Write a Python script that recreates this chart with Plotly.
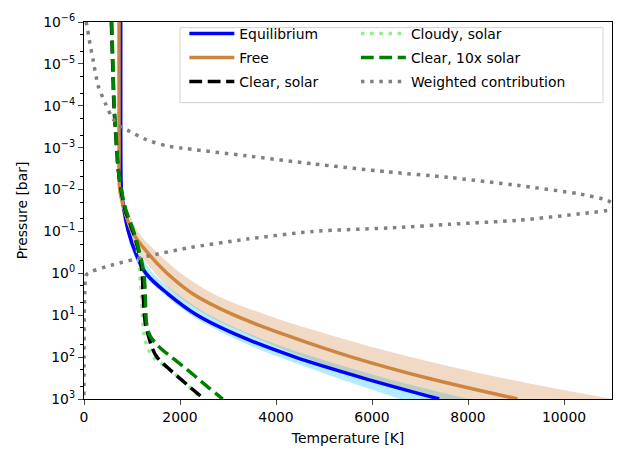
import plotly.graph_objects as go

# ---- pressure grids (log10 of pressure in bar) ----
grid_logp = [-6, -5, -4, -3, -2, -1.5, -1, -0.5, 0, 0.5, 1, 1.5, 2, 2.5, 3]

# Retrieved temperature profiles [K] and their 1-sigma envelopes
equilibrium_T = [765, 765, 765, 766, 780, 835, 925, 1070, 1290, 1760, 2360, 3250, 4400, 5820, 7400]
equilibrium_lo = [760, 760, 760, 760, 770, 815, 890, 1020, 1220, 1670, 2230, 3030, 4060, 5280, 6580]
equilibrium_hi = [770, 770, 770, 772, 795, 870, 985, 1160, 1440, 1960, 2620, 3570, 4800, 6270, 8000]
free_T = [730, 730, 730, 731, 745, 850, 1000, 1320, 1730, 2280, 3130, 4270, 5580, 7150, 9030]
free_lo = [725, 725, 725, 724, 722, 787, 893, 1148, 1479, 1916, 2566, 3500, 4574, 5861, 7400]
free_hi = [735, 735, 735, 738, 770, 920, 1120, 1520, 2020, 2710, 3820, 5210, 6810, 8720, 11020]

# Forward-model profiles [K]
model_logp = [-6, -5, -4, -3, -2.5, -2, -1.5, -1, -0.5, 0, 0.5, 1, 1.25, 1.5, 1.75, 2, 2.25, 2.5, 2.75, 3]
clear_solar_T = [570, 598, 625, 680, 712, 770, 862, 1019, 1144, 1211, 1232, 1260, 1285, 1345, 1410, 1520, 1740, 1990, 2240, 2510]
cloudy_solar_T = [565, 594, 620, 676, 708, 765, 850, 1000, 1120, 1160, 1195, 1215, 1235, 1255, 1320, 1440, 1730, 1990, 2230, 2440]
clear_10x_T = [577, 603, 630, 683, 712, 779, 875, 1036, 1158, 1247, 1275, 1290, 1310, 1380, 1560, 1820, 2100, 2360, 2620, 2890]

# Weighted contribution function, scaled onto the temperature axis
contrib_logp = [-6.0, -5.938, -5.479, -5.106, -4.486, -4.073, -3.683, -3.5, -3.385, -3.186,
                -3.041, -2.995, -2.805, -2.612, -2.424, -2.291, -2.101, -1.899, -1.741, -1.6,
                -1.527, -1.436, -1.264, -1.17, -1.092, -1.0, -0.817, -0.603, -0.404, -0.204,
                0.025, 0.5, 1.0, 2.0, 3.0]
contrib_T = [42, 56, 125, 188, 292, 438, 604, 765, 958, 1306,
             1723, 2000, 3390, 4777, 6308, 7594, 9021, 10304, 10910, 11060,
             11000, 10448, 9021, 7594, 6521, 4771, 3396, 2146, 1306, 604,
             56, 15, 5, 1, 0]

# Axis ticks
x_ticks = [0, 2000, 4000, 6000, 8000, 10000]
y_exponents = [-6, -5, -4, -3, -2, -1, 0, 1, 2, 3]


def to_p(logs):
    return [10 ** v for v in logs]


FONT = "DejaVu Sans"
FS = 13.9
grid_p = to_p(grid_logp)
model_p = to_p(model_logp)

fig = go.Figure()


def band(lo, hi, color):
    fig.add_trace(go.Scatter(x=lo, y=grid_p, mode="lines", line=dict(width=0, shape="spline"),
                             showlegend=False, hoverinfo="skip"))
    fig.add_trace(go.Scatter(x=hi, y=grid_p, mode="lines", line=dict(width=0, shape="spline"),
                             fill="tonextx", fillcolor=color, showlegend=False, hoverinfo="skip"))


band(equilibrium_lo, equilibrium_hi, "rgba(0,191,255,0.3)")
band(free_lo, free_hi, "rgba(205,133,63,0.3)")

LW = 3.5
fig.add_trace(go.Scatter(x=equilibrium_T, y=grid_p, mode="lines", name="Equilibrium",
                         line=dict(color="#0000ff", width=LW, shape="spline"), legend="legend"))
fig.add_trace(go.Scatter(x=free_T, y=grid_p, mode="lines", name="Free",
                         line=dict(color="#cd853f", width=LW, shape="spline"), legend="legend"))
fig.add_trace(go.Scatter(x=cloudy_solar_T, y=model_p, mode="lines", name="Cloudy, solar",
                         line=dict(color="#90ee90", width=LW, dash="3.5px,5.7px", shape="spline"),
                         legend="legend2"))
fig.add_trace(go.Scatter(x=clear_solar_T, y=model_p, mode="lines", name="Clear, solar",
                         line=dict(color="black", width=LW, dash="12.8px,5.6px", shape="spline"),
                         legend="legend"))
fig.add_trace(go.Scatter(x=clear_10x_T, y=model_p, mode="lines", name="Clear, 10x solar",
                         line=dict(color="#008000", width=LW, dash="12.8px,5.6px", shape="spline"),
                         legend="legend2"))
fig.add_trace(go.Scatter(x=contrib_T, y=to_p(contrib_logp), mode="lines", name="Weighted contribution",
                         line=dict(color="#808080", width=LW, dash="3.5px,5.7px", shape="spline", smoothing=0.6),
                         legend="legend2"))

# ordering within each legend column
order = {"Equilibrium": 1, "Free": 2, "Clear, solar": 3,
         "Cloudy, solar": 1, "Clear, 10x solar": 2, "Weighted contribution": 3}
for tr in fig.data:
    if tr.name in order:
        tr.legendrank = order[tr.name]
        tr.legendgroup = tr.name

legend_common = dict(bgcolor="rgba(0,0,0,0)", borderwidth=0, font=dict(family=FONT, size=FS, color="black"),
                     traceorder="grouped", tracegroupgap=3, yanchor="top", xanchor="left", itemwidth=45)

fig.update_layout(
    width=627, height=455,
    margin=dict(l=84, r=15, t=14, b=49),
    paper_bgcolor="white", plot_bgcolor="white",
    font=dict(family=FONT, size=FS, color="black"),
    legend=dict(x=0.19, y=1.011, **legend_common),
    legend2=dict(x=0.515, y=1.011, **legend_common),
    shapes=[dict(type="rect", xref="paper", yref="paper", x0=0.182, x1=0.983, y0=0.786, y1=0.985,
                 line=dict(color="#d3d3d3", width=1), fillcolor="rgba(255,255,255,0.8)", layer="above")],
    xaxis=dict(range=[0, 11000], tickvals=x_ticks, ticktext=[str(v) for v in x_ticks],
               ticks="outside", ticklen=5, tickwidth=1.1,
               showline=True, linecolor="black", linewidth=1.1, mirror=True, showgrid=False, zeroline=False,
               title=dict(text="Temperature [K]", standoff=9, font=dict(size=FS)),
               tickfont=dict(size=FS)),
    yaxis=dict(type="log", range=[3, -6], tickvals=[10 ** e for e in y_exponents],
               ticktext=["10<sup>%s</sup>" % (str(e).replace("-", "\u2212")) for e in y_exponents],
               ticks="outside", ticklen=5, tickwidth=1.1,
               minor=dict(ticks="outside", ticklen=3, tickwidth=0.8, tickcolor="black", showgrid=False),
               showline=True, linecolor="black", linewidth=1.1, mirror=True, showgrid=False, zeroline=False,
               title=dict(text="Pressure [bar]", standoff=12, font=dict(size=FS)),
               tickfont=dict(size=FS)),
)

fig.write_html("out.html")
